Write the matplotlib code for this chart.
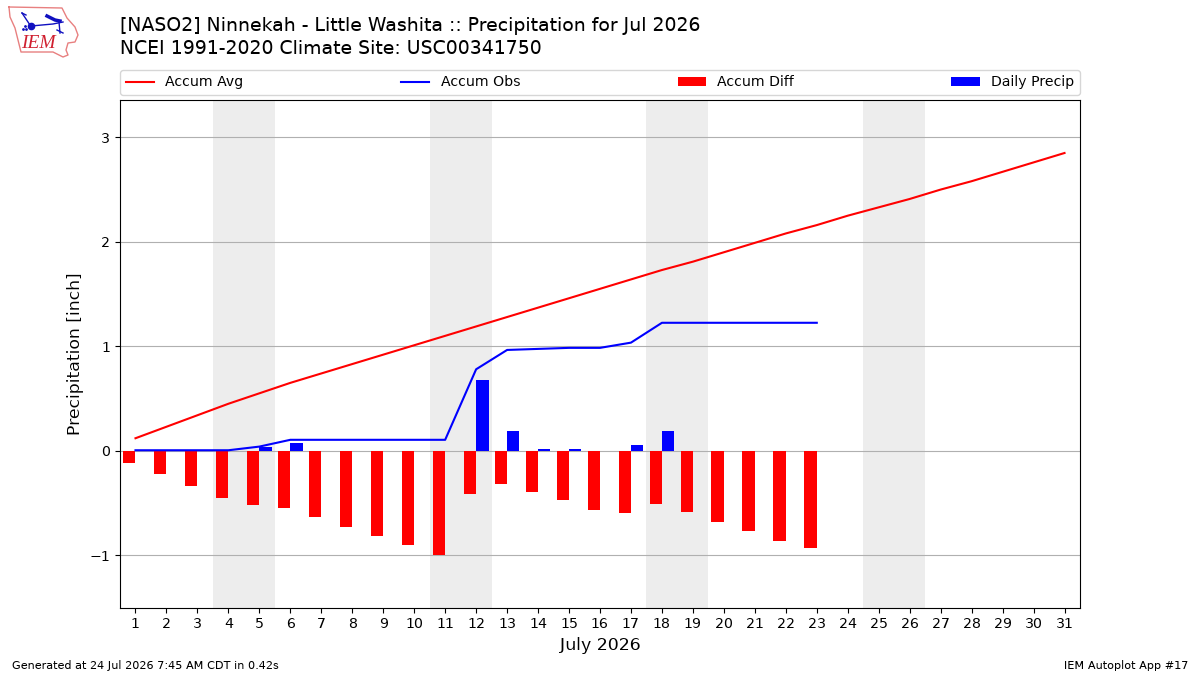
import matplotlib
matplotlib.use("Agg")
import numpy as np
import matplotlib.pyplot as plt

plt.rcParams["text.hinting"] = "no_autohint"

days = list(range(1, 32))
accum_avg = [0.12, 0.23, 0.34, 0.45, 0.55, 0.65, 0.74, 0.83, 0.92, 1.01, 1.10,
             1.19, 1.28, 1.37, 1.46, 1.55, 1.64, 1.73, 1.81, 1.90, 1.99, 2.08,
             2.16, 2.25, 2.33, 2.41, 2.50, 2.58, 2.67, 2.76, 2.85]
accum_obs = [0.005, 0.005, 0.005, 0.005, 0.04, 0.105, 0.105, 0.105, 0.105, 0.105,
             0.105, 0.78, 0.965, 0.975, 0.985, 0.985, 1.035, 1.225, 1.225, 1.225,
             1.225, 1.225, 1.225]
accum_diff = [-0.115, -0.225, -0.335, -0.45, -0.515, -0.545, -0.63, -0.725, -0.815,
              -0.905, -0.995, -0.41, -0.315, -0.395, -0.475, -0.565, -0.60, -0.505,
              -0.585, -0.68, -0.765, -0.86, -0.935]
daily_precip = [0, 0, 0, 0, 0.04, 0.075, 0, 0, 0, 0, 0, 0.68, 0.19, 0.02, 0.02, 0,
                0.06, 0.19, 0, 0, 0, 0, 0]
weekends = [(3.5, 5.5), (10.5, 12.5), (17.5, 19.5), (24.5, 26.5)]

obs_days = days[:len(accum_obs)]

fig = plt.figure(figsize=(12, 6.75), dpi=100)
ax = fig.add_axes([0.1, 0.1, 0.8, 0.7515])

for lo, hi in weekends:
    ax.axvspan(lo, hi, color="#ededed", lw=0, zorder=0)

ax.plot(days, accum_avg, color="r", lw=1.5, label="Accum Avg", zorder=4)
ax.plot(obs_days, accum_obs, color="b", lw=1.5, label="Accum Obs", zorder=4)
ax.bar(obs_days, accum_diff, width=-0.4, align="edge", color="r", label="Accum Diff", zorder=3)
ax.bar(obs_days, daily_precip, width=0.4, align="edge", color="b", label="Daily Precip", zorder=3)

ax.set_xlim(0.5, 31.5)
ax.set_ylim(-1.5, 3.355)
ax.set_xticks(days)
ax.set_yticks([-1, 0, 1, 2, 3])
ax.grid(axis="y", color="#b0b0b0", lw=0.8, zorder=1)
ax.set_axisbelow(True)
ax.tick_params(labelsize=10.2)
ax.set_xlabel("July 2026", fontsize=12.5)
ax.set_ylabel("Precipitation [inch]", fontsize=12.4)

ax.legend(loc="lower left", bbox_to_anchor=(0, 1.01, 1, 0.1), ncol=4, mode="expand",
          fontsize=10.2, borderaxespad=0)

fig.text(0.1, 0.9615, "[NASO2] Ninnekah - Little Washita :: Precipitation for Jul 2026",
         fontsize=13.56, va="center")
fig.text(0.1, 0.9275, "NCEI 1991-2020 Climate Site: USC00341750", fontsize=13.56, va="center")
fig.text(0.01, 0.0148, "Generated at 24 Jul 2026 7:45 AM CDT in 0.42s", fontsize=8.1, va="center")
fig.text(0.99, 0.0148, "IEM Autoplot App #17", fontsize=8.1, va="center", ha="right")

# small state-outline logo, drawn in pixel units
logo = fig.add_axes([0, 1 - 70 / 675, 140 / 1200, 70 / 675])
logo.set_xlim(0, 140)
logo.set_ylim(70, 0)
logo.axis("off")
outline = np.array([(9, 7), (62, 8), (67, 18), (75, 27), (78, 35), (75, 42), (68, 43),
                    (66, 50), (68, 55), (63, 57), (53, 52), (21, 52), (18, 40), (15, 28),
                    (10, 17), (9, 7)])
logo.plot(outline[:, 0], outline[:, 1], color="#e88080", lw=1)
logo.plot([22, 30], [13, 25], color="#1010c0", lw=1)
logo.plot([22, 26], [13, 15], color="#1010c0", lw=1)
logo.plot([31, 53, 63], [26, 24, 22], color="#1010c0", lw=1)
logo.plot([47, 55, 60], [16, 20, 21], color="#1010c0", lw=2.5)
logo.plot([59, 60], [22, 33], color="#1010c0", lw=1)
logo.plot([57, 63], [30, 33], color="#1010c0", lw=1)
logo.plot([31], [26], "o", color="#1010c0", ms=4.5)
logo.plot([23, 26, 25], [29, 29, 26], ".", color="#1010c0", ms=2)
logo.text(38, 43, "IEM", color="#d02030", fontsize=14, family="Liberation Serif",
          style="italic", ha="center", va="center")

fig.savefig("out.png", dpi=100)
